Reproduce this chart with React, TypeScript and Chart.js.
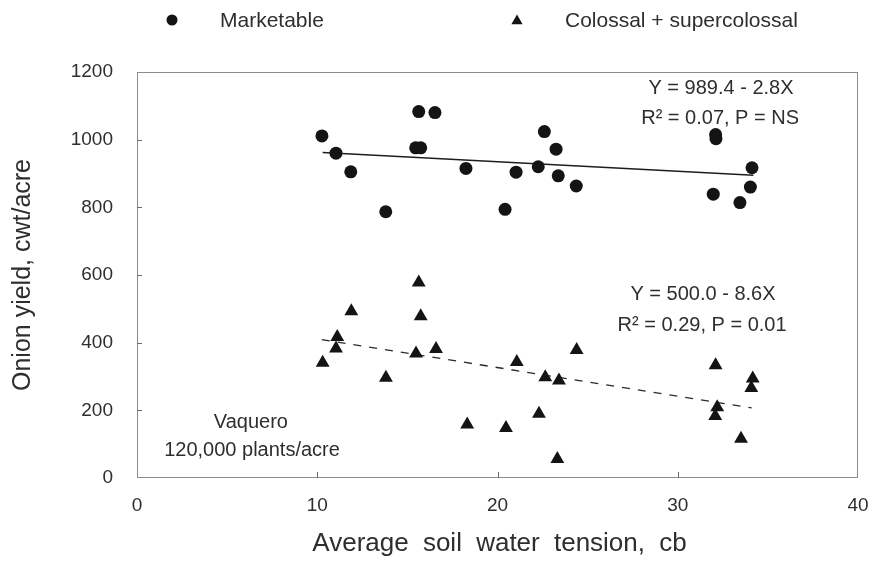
import { useEffect, useRef } from "react";
import { Chart, registerables } from "chart.js";

Chart.register(...registerables);

// Marketable yield (circles)
const marketableX = [10.26, 11.04, 11.86, 13.8, 15.63, 16.53, 15.46, 15.74, 18.25, 20.42, 21.03, 22.26, 22.6, 23.25, 23.37, 24.37, 32.1, 32.12, 31.97, 34.12, 34.03, 33.45];
const marketableY = [1011, 960, 905, 787, 1083, 1080, 976, 976, 915, 794, 904, 920, 1024, 972, 893, 863, 1015, 1003, 839, 917, 860, 814];

// Colossal + supercolossal yield (triangles)
const colossalX = [15.63, 11.89, 15.74, 11.11, 11.04, 10.3, 15.48, 16.59, 13.81, 18.32, 24.39, 21.07, 22.65, 23.41, 22.3, 20.47, 23.32, 32.1, 34.16, 34.08, 32.19, 32.08, 33.51];
const colossalY = [578, 493, 478, 417, 383, 341, 368, 381, 296, 158, 378, 343, 298, 288, 190, 148, 56, 333, 294, 266, 209, 183, 116];

// Regression lines (end points)
const trendMarketableX = [10.3, 34.2];
const trendMarketableY = [962, 895];
const trendColossalX = [10.25, 34.1];
const trendColossalY = [409, 207];

const xTicks = [0, 10, 20, 30, 40];
const yTicks = [0, 200, 400, 600, 800, 1000, 1200];

const legendLabels = ["Marketable", "Colossal + supercolossal"];
const xTitle = "Average soil water tension, cb";
const yTitle = "Onion yield, cwt/acre";

const annotationTexts = [
  "Y = 989.4 - 2.8X",
  "R² = 0.07, P = NS",
  "Y = 500.0 - 8.6X",
  "R² = 0.29, P = 0.01",
  "Vaquero",
  "120,000 plants/acre",
];
const annotationX = [32.4, 32.35, 31.4, 31.35, 6.32, 6.38];
const annotationY = [1150, 1064, 541, 452, 163, 80];

const FONT = '"Liberation Sans", Arial, Helvetica, sans-serif';
const TEXT = "#2e2e2e";
const MARK = "#141414";

const pts = (xs: number[], ys: number[]) => xs.map((x, i) => ({ x, y: ys[i] }));

export default function App() {
  const ref = useRef<HTMLCanvasElement>(null);

  useEffect(() => {
    document.body.style.margin = "0";
    const canvas = ref.current;
    if (!canvas) return;

    const framePlugin = {
      id: "frame",
      beforeDatasetsDraw(chart: any) {
        const { ctx, chartArea: a, scales } = chart;
        ctx.save();
        ctx.strokeStyle = "#8c8c8c";
        ctx.lineWidth = 1;
        ctx.strokeRect(a.left + 0.5, a.top + 0.5, a.right - a.left - 1, a.bottom - a.top - 1);
        ctx.strokeStyle = "#6a6a6a";
        ctx.beginPath();
        yTicks.forEach((v) => {
          if (v === 0 || v === 1200) return;
          const y = Math.round(scales.y.getPixelForValue(v)) + 0.5;
          ctx.moveTo(a.left, y);
          ctx.lineTo(a.left + 5, y);
        });
        xTicks.forEach((v) => {
          if (v === 0 || v === 40) return;
          const x = Math.round(scales.x.getPixelForValue(v)) + 0.5;
          ctx.moveTo(x, a.bottom);
          ctx.lineTo(x, a.bottom - 6);
        });
        ctx.stroke();
        ctx.restore();
      },
      afterDraw(chart: any) {
        const { ctx, scales, chartArea: a } = chart;
        ctx.save();
        ctx.textBaseline = "middle";
        ctx.textAlign = "left";
        // legend
        ctx.fillStyle = MARK;
        ctx.beginPath();
        ctx.arc(172, 20, 5.5, 0, Math.PI * 2);
        ctx.fill();
        ctx.beginPath();
        const r = 6.5;
        ctx.moveTo(517, 21 - r);
        ctx.lineTo(517 + r * Math.sin((2 * Math.PI) / 3), 21 + r / 2);
        ctx.lineTo(517 - r * Math.sin((2 * Math.PI) / 3), 21 + r / 2);
        ctx.closePath();
        ctx.fill();
        ctx.fillStyle = TEXT;
        ctx.font = `21px ${FONT}`;
        ctx.fillText(legendLabels[0], 220, 21);
        ctx.fillText(legendLabels[1], 565, 21);
        // annotations
        ctx.font = `20px ${FONT}`;
        ctx.textAlign = "center";
        annotationTexts.forEach((t, i) => {
          ctx.fillText(t, scales.x.getPixelForValue(annotationX[i]), scales.y.getPixelForValue(annotationY[i]));
        });
        // x axis title (wide word spacing as in the original)
        ctx.font = `26px ${FONT}`;
        if ("wordSpacing" in ctx) (ctx as any).wordSpacing = "7px";
        ctx.fillText(xTitle, (a.left + a.right) / 2 + 2, 544);
        ctx.restore();
      },
    };

    const chart = new Chart(canvas, {
      type: "scatter",
      data: {
        datasets: [
          {
            label: legendLabels[0],
            data: pts(marketableX, marketableY),
            pointStyle: "circle",
            pointRadius: 6.5,
            backgroundColor: MARK,
            borderColor: MARK,
            borderWidth: 0,
          },
          {
            label: legendLabels[1],
            data: pts(colossalX, colossalY),
            pointStyle: "triangle",
            pointRadius: 8,
            backgroundColor: MARK,
            borderColor: MARK,
            borderWidth: 0,
          },
          {
            type: "line",
            label: "trend1",
            data: pts(trendMarketableX, trendMarketableY),
            borderColor: "#1e1e1e",
            borderWidth: 1.5,
            pointRadius: 0,
            showLine: true,
            fill: false,
          },
          {
            type: "line",
            label: "trend2",
            data: pts(trendColossalX, trendColossalY),
            borderColor: "#2a2a2a",
            borderWidth: 1.3,
            borderDash: [8, 8],
            pointRadius: 0,
            showLine: true,
            fill: false,
          },
        ],
      } as any,
      options: {
        responsive: false,
        animation: false,
        events: [],
        layout: { padding: { top: 72, right: 13, left: 0, bottom: 0 } },
        plugins: { legend: { display: false }, tooltip: { enabled: false } },
        scales: {
          x: {
            type: "linear",
            min: 0,
            max: 40,
            afterBuildTicks: (s: any) => {
              s.ticks = xTicks.map((v) => ({ value: v }));
            },
            ticks: { font: { size: 19, family: FONT }, color: TEXT, padding: 16, callback: (v: any) => String(v) },
            grid: { display: false, drawTicks: false },
            border: { display: false },
            title: { display: false },
            afterFit: (s: any) => {
              s.height = 84;
              s.paddingLeft = 0;
              s.paddingRight = 0;
            },
          },
          y: {
            type: "linear",
            min: 0,
            max: 1200,
            afterBuildTicks: (s: any) => {
              s.ticks = yTicks.map((v) => ({ value: v }));
            },
            ticks: { font: { size: 19, family: FONT }, color: TEXT, padding: 24, callback: (v: any) => String(v) },
            grid: { display: false, drawTicks: false },
            border: { display: false },
            title: {
              display: true,
              text: yTitle,
              color: TEXT,
              font: { size: 25, family: FONT },
              padding: { top: 8, bottom: 0 },
            },
            afterFit: (s: any) => {
              s.width = 137;
              s.paddingTop = 0;
              s.paddingBottom = 0;
            },
          },
        },
      } as any,
      plugins: [framePlugin],
    });

    return () => chart.destroy();
  }, []);

  return <canvas ref={ref} width={871} height={562} style={{ display: "block" }} />;
}
